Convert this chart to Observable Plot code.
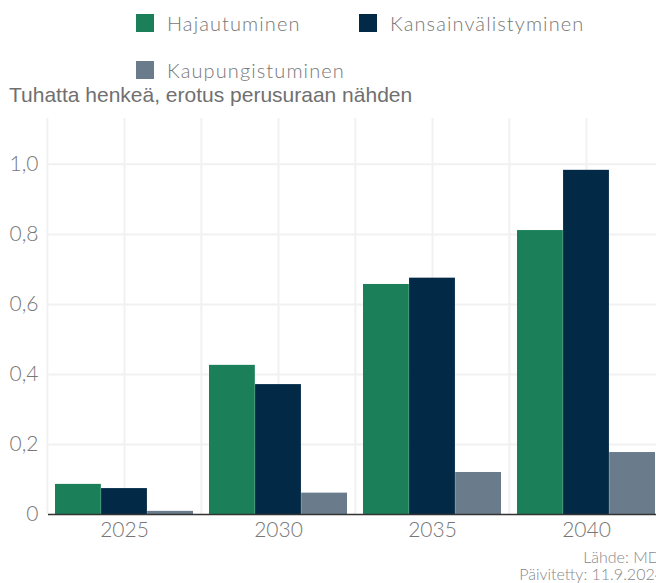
<!DOCTYPE html>
<html>
<head>
<meta charset="utf-8">
<script src="https://cdn.jsdelivr.net/npm/d3@7"></script>
<script src="https://cdn.jsdelivr.net/npm/@observablehq/plot@0.6"></script>
<style>
  html, body { margin: 0; padding: 0; background: #fff; overflow: hidden; width: 656px; height: 583px; }
  #wrap { position: relative; width: 680px; height: 583px; }
  .leg { position: absolute; font-family: Lato, sans-serif; font-weight: 300; font-size: 20px; letter-spacing: 1.1px; color: #777; white-space: nowrap; line-height: 20px; }
  .sw { position: absolute; width: 18px; height: 18px; }
  #sub { position: absolute; left: 9px; top: 83px; font-family: "Liberation Sans", Arial, sans-serif; font-size: 21px; line-height: 24px; color: #707070; white-space: nowrap; }
  #chart { position: absolute; left: 0; top: 104px; }
  #foot { position: absolute; right: 16px; top: 548px; text-align: right; font-family: Lato, sans-serif; font-weight: 300; font-size: 16px; color: #888; line-height: 17px; white-space: nowrap; }
</style>
</head>
<body>
<div id="wrap">
  <div id="legend"></div>
  <div id="sub">Tuhatta henkeä, erotus perusuraan nähden</div>
  <div id="chart"></div>
  <div id="foot">Lähde: MDI<br>Päivitetty: 11.9.2024</div>
</div>
<script>
const years = ["2025", "2030", "2035", "2040"];
const seriesNames = ["Hajautuminen", "Kansainvälistyminen", "Kaupungistuminen"];
const hajautuminen = [0.086, 0.426, 0.657, 0.811];
const kansainvalistyminen = [0.074, 0.371, 0.675, 0.983];
const kaupungistuminen = [0.009, 0.061, 0.120, 0.177];
const colors = ["#1b805a", "#022946", "#6a7c8b"];
const yTicks = [0, 0.2, 0.4, 0.6, 0.8, 1.0];

const seriesValues = [hajautuminen, kansainvalistyminen, kaupungistuminen];
const data = [];
seriesNames.forEach((s, i) => years.forEach((y, j) => data.push({series: s, year: y, value: seriesValues[i][j]})));

// legend
const legend = document.getElementById("legend");
const legPos = [[136, 14], [359, 14], [136, 61]];
seriesNames.forEach((s, i) => {
  const sw = document.createElement("div");
  sw.className = "sw";
  sw.style.left = legPos[i][0] + "px";
  sw.style.top = legPos[i][1] + "px";
  sw.style.background = colors[i];
  legend.appendChild(sw);
  const t = document.createElement("div");
  t.className = "leg";
  t.textContent = s;
  t.style.left = (legPos[i][0] + 31) + "px";
  t.style.top = (legPos[i][1] - 1.5) + "px";
  legend.appendChild(t);
});

const width = 664, marginLeft = 46, marginRight = 1;
const step = (width - marginLeft - marginRight) / years.length;
const outerPad = 8;
const bw = (step - 2 * outerPad) / seriesNames.length;
const gridColor = "#f1f1f1";

const bars = seriesNames.map((s, i) => Plot.barY(data.filter(d => d.series === s), {
  x: "year", y: "value", fill: colors[i],
  insetLeft: outerPad + i * bw,
  insetRight: step - outerPad - (i + 1) * bw
}));

const plot = Plot.plot({
  width, height: 450,
  marginLeft, marginRight, marginTop: 14, marginBottom: 40,
  style: {fontFamily: "Lato, sans-serif", fontWeight: 300, fontSize: "21px", color: "#777", background: "transparent"},
  x: {type: "band", domain: years, padding: 0, label: null, tickSize: 0, tickPadding: 8},
  y: {domain: [0, 1.131], ticks: yTicks, label: null, tickSize: 0, tickPadding: 8,
      tickFormat: d => d === 0 ? "0" : d.toFixed(1).replace(".", ",")},
  marks: [
    Plot.ruleY(yTicks.filter(d => d > 0), {stroke: gridColor, strokeWidth: 2, insetLeft: 2}),
    Plot.ruleX(years, {x: d => d, stroke: gridColor, strokeWidth: 2}),
    Plot.ruleX(years, {x: d => d, dx: -step / 2, stroke: gridColor, strokeWidth: 2}),
    Plot.ruleX([years[years.length - 1]], {x: d => d, dx: step / 2, stroke: gridColor, strokeWidth: 2}),
    ...bars,
    Plot.ruleY([0], {stroke: "#333", strokeWidth: 1.5, insetLeft: 2})
  ]
});
document.getElementById("chart").appendChild(plot);
</script>
</body>
</html>
